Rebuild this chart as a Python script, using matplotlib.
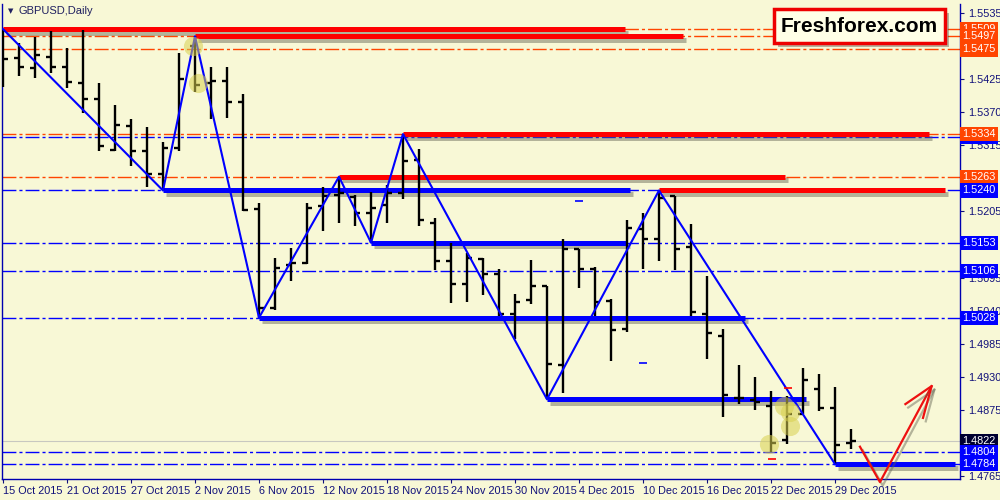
import matplotlib
matplotlib.use("Agg")
import matplotlib.pyplot as plt
import matplotlib.patheffects as pe
from matplotlib.patches import FancyBboxPatch

# daily GBPUSD bars, 15 Oct 2015 .. 30 Dec 2015
opens = [1.5470, 1.5460, 1.5444, 1.5463, 1.5445, 1.5419, 1.5392, 1.5308, 1.5348, 1.5305,
         1.5268, 1.5310, 1.5480, 1.5419, 1.5422, 1.5387, 1.5209, 1.5045, 1.5116, 1.5119,
         1.5214, 1.5233, 1.5229, 1.5203, 1.5215, 1.5236, 1.5291, 1.5186, 1.5123, 1.5084,
         1.5126, 1.5101, 1.5034, 1.5058, 1.5081, 1.4949, 1.5143, 1.5109, 1.5056, 1.5010,
         1.5176, 1.5159, 1.5230, 1.5146, 1.5035, 1.4998, 1.4895, 1.4891, 1.4881, 1.4825,
         1.4867, 1.4909, 1.4877, 1.4819]
highs = [1.5509, 1.5485, 1.5496, 1.5506, 1.5477, 1.5508, 1.5419, 1.5382, 1.5359, 1.5346,
         1.5320, 1.5469, 1.5497, 1.5445, 1.5445, 1.5401, 1.5219, 1.5127, 1.5144, 1.5219,
         1.5245, 1.5263, 1.5232, 1.5238, 1.5249, 1.5334, 1.5309, 1.5194, 1.5152, 1.5136,
         1.5128, 1.5109, 1.5068, 1.5124, 1.5081, 1.5159, 1.5143, 1.5113, 1.5059, 1.5191,
         1.5202, 1.5240, 1.5231, 1.5184, 1.5098, 1.5010, 1.4949, 1.4929, 1.4906, 1.4898,
         1.4944, 1.4934, 1.4912, 1.4842]
lows = [1.5413, 1.5430, 1.5427, 1.5435, 1.5411, 1.5369, 1.5305, 1.5306, 1.5281, 1.5246,
        1.5240, 1.5306, 1.5404, 1.5359, 1.5360, 1.5205, 1.5028, 1.5041, 1.5089, 1.5118,
        1.5173, 1.5186, 1.5180, 1.5153, 1.5186, 1.5225, 1.5181, 1.5108, 1.5052, 1.5055,
        1.5066, 1.5031, 1.4992, 1.5051, 1.4892, 1.4902, 1.5077, 1.5031, 1.4956, 1.5004,
        1.5110, 1.5123, 1.5108, 1.5031, 1.4959, 1.4863, 1.4885, 1.4874, 1.4804, 1.4817,
        1.4867, 1.4873, 1.4784, 1.4810]
closes = [1.5459, 1.5445, 1.5465, 1.5445, 1.5420, 1.5392, 1.5314, 1.5349, 1.5305, 1.5268,
          1.5311, 1.5426, 1.5416, 1.5422, 1.5387, 1.5208, 1.5045, 1.5111, 1.5119, 1.5210,
          1.5231, 1.5235, 1.5203, 1.5211, 1.5235, 1.5289, 1.5190, 1.5123, 1.5084, 1.5127,
          1.5101, 1.5035, 1.5055, 1.5081, 1.4951, 1.5142, 1.5109, 1.5055, 1.5008, 1.5178,
          1.5159, 1.5227, 1.5143, 1.5038, 1.5003, 1.4899, 1.4894, 1.4887, 1.4819, 1.4867,
          1.4924, 1.4878, 1.4816, 1.4822]

date_labels = ["15 Oct 2015", "21 Oct 2015", "27 Oct 2015", "2 Nov 2015", "6 Nov 2015",
               "12 Nov 2015", "18 Nov 2015", "24 Nov 2015", "30 Nov 2015", "4 Dec 2015",
               "10 Dec 2015", "16 Dec 2015", "22 Dec 2015", "29 Dec 2015"]
# scale ticks that are not hidden behind the level labels
price_ticks = [1.5535, 1.5425, 1.5370, 1.5315, 1.5205, 1.5095,
               1.5040, 1.4985, 1.4930, 1.4875, 1.4765]

# zigzag swing points (bar index, price)
zz_bar = [0, 10, 12, 16, 21, 23, 25, 34, 41, 52]
zz_price = [1.5509, 1.5240, 1.5497, 1.5028, 1.5263, 1.5153, 1.5334, 1.4892, 1.5240, 1.4784]

# thick resistance / support segments
res_price = [1.5509, 1.5497, 1.5334, 1.5263, 1.5240]
res_from = [0, 12, 25, 21, 41]
res_to = [38.9, 42.5, 57.9, 48.9, 58.9]
sup_price = [1.5240, 1.5153, 1.5028, 1.4892, 1.4784]
sup_from = [10, 23, 16, 34, 52]
sup_to = [39.2, 39.0, 46.4, 50.2, 59.5]

# full-width dash-dot levels
orange_levels = [1.5509, 1.5497, 1.5475, 1.5334, 1.5263]
blue_levels = [1.5329, 1.5240, 1.5153, 1.5106, 1.5028, 1.4804, 1.4784]
bid = 1.4822

# hand-drawn forecast arrow
fc_bar = [53.56, 54.81, 58.04]
fc_price = [1.4813, 1.4754, 1.4914]
wing_bar = [56.4, 58.04, 57.5]
wing_price = [1.4884, 1.4914, 1.4861]

# trade marks
mark_bar = [11.88, 12.19, 47.88, 48.8, 49.2, 49.2]
mark_price = [1.5481, 1.5419, 1.4818, 1.4881, 1.4871, 1.4847]
stop_bar = [48.06, 49.06]
stop_price = [1.4793, 1.4911]
order_bar = [36.0, 40.0]
order_price = [1.5223, 1.4953]

BG = "#F8F8D6"
NAVY = "#10107A"
ORANGE = "#FF4500"
BLUE = "#0000FF"

plt.rcParams["font.family"] = ["Liberation Sans", "DejaVu Sans"]

fig = plt.figure(figsize=(10, 5), dpi=100)
fig.patch.set_facecolor(BG)
ax = fig.add_axes([0.002, 0.042, 0.958, 0.95])
ax.set_facecolor(BG)

n = len(opens)
idx = list(range(n))
ax.set_xlim(-0.0625, 59.8125)
ax.set_ylim(1.475917, 1.555083)

dashdot = (0, (10, 2.2, 2.2, 2.2))
for lv in orange_levels:
    ax.axhline(lv, color=ORANGE, lw=1.0, ls=dashdot, zorder=1)
for lv in blue_levels:
    ax.axhline(lv, color=BLUE, lw=1.0, ls=dashdot, zorder=1)
ax.axhline(bid, color="#C8C8C0", lw=0.8, zorder=1)

shadow = [pe.SimpleLineShadow(offset=(2, -2.5), shadow_color="#606050", alpha=0.45),
          pe.Normal()]
ax.hlines(sup_price, sup_from, sup_to, color=BLUE, lw=3.6, zorder=3, path_effects=shadow)
ax.hlines(res_price, res_from, res_to, color="#FF0000", lw=3.6, zorder=3, path_effects=shadow)

# OHLC bars
ax.vlines(idx, lows, highs, color="black", lw=1.7, zorder=4)
ax.hlines(opens, [i - 0.32 for i in idx], idx, color="black", lw=1.7, zorder=4)
ax.hlines(closes, idx, [i + 0.32 for i in idx], color="black", lw=1.7, zorder=4)

ax.plot(zz_bar, zz_price, color=BLUE, lw=1.5, zorder=5)

ax.scatter(mark_bar, mark_price, s=190, color="#D8D050", alpha=0.55, lw=0, zorder=6)
ax.scatter(stop_bar, stop_price, s=40, marker="_", color="#FF0000", lw=1.2, zorder=6)
ax.scatter(order_bar, order_price, s=40, marker="_", color=BLUE, lw=1.2, zorder=6)

ax.plot(fc_bar, fc_price, color="#EE1010", lw=1.6, zorder=7, clip_on=False,
        path_effects=shadow)
ax.plot(wing_bar, wing_price, color="#EE1010", lw=1.6, zorder=7, clip_on=False,
        path_effects=shadow)

# axes styling
ax.spines["top"].set_visible(False)
for side in ("left", "right", "bottom"):
    ax.spines[side].set_color("#0000B0")
    ax.spines[side].set_linewidth(1)

ax.set_xticks(range(0, n, 4))
ax.set_xticklabels(date_labels)
for lbl in ax.get_xticklabels():
    lbl.set_horizontalalignment("left")
ax.tick_params(axis="x", colors=NAVY, labelsize=7.8, length=3, pad=2, labelcolor=NAVY)

ax.yaxis.tick_right()
ax.set_yticks(price_ticks)
ax.set_yticklabels([f"{p:.4f}" for p in price_ticks])
ax.tick_params(axis="y", colors=NAVY, labelsize=7.8, length=3, pad=3, labelcolor=NAVY)

# price labels on the right scale
side_labels = [(1.5509, ORANGE), (1.5497, ORANGE), (1.5475, ORANGE), (1.5329, BLUE),
               (1.5334, ORANGE), (1.5263, ORANGE), (1.5240, BLUE), (1.5153, BLUE),
               (1.5106, BLUE), (1.5028, BLUE), (1.4822, "#000030"), (1.4804, BLUE),
               (1.4784, BLUE)]
for p, c in side_labels:
    ax.text(1.0025, p, f"{p:.4f}", transform=ax.get_yaxis_transform(), color="white",
            fontsize=7.8, va="center", ha="left", clip_on=False, zorder=10,
            bbox=dict(boxstyle="square,pad=0.2", fc=c, ec="none"))

ax.text(0.006, 0.985, "\u25BC", transform=ax.transAxes, fontsize=5, color="#202060",
        va="center", ha="left", family="DejaVu Sans")
ax.text(0.017, 0.985, "GBPUSD,Daily", transform=ax.transAxes, fontsize=8,
        color="#202060", va="center", ha="left")

logo = FancyBboxPatch((0.774, 0.914), 0.171, 0.068, boxstyle="square,pad=0",
                      transform=fig.transFigure, fc="#FFFFE6", ec="#EE0000", lw=2.5,
                      zorder=20,
                      path_effects=[pe.SimplePatchShadow(offset=(3, -3), alpha=0.4),
                                    pe.Normal()])
fig.add_artist(logo)
fig.text(0.8595, 0.948, "Freshforex.com", fontsize=15, fontweight="bold", color="black",
         ha="center", va="center", zorder=21)

fig.savefig("out.png", dpi=100, facecolor=BG)
